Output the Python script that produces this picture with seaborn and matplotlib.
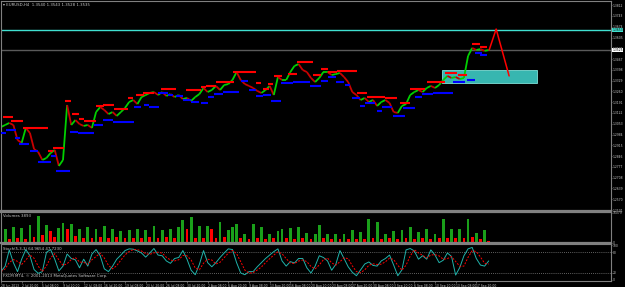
import numpy as np
import pandas as pd
import matplotlib
matplotlib.use("Agg")
import matplotlib.pyplot as plt
import matplotlib.transforms as mtransforms
from matplotlib.collections import LineCollection
from matplotlib.patches import Rectangle
import seaborn as sns

# ---------------- data ----------------
BAR_STEP = 3  # each sample below = one 12h step (3 x H4 bars)

closes = [1.3032, 1.3045, 1.3058, 1.3045, 1.2949, 1.2930, 1.3026, 1.2994, 1.2891, 1.2872,
          1.2821, 1.2834, 1.2866, 1.2885, 1.2783, 1.2821, 1.3173, 1.3045, 1.3077, 1.3051,
          1.3039, 1.3045, 1.3026, 1.3128, 1.3160, 1.3141, 1.3115, 1.3128, 1.3103, 1.3128,
          1.3154, 1.3192, 1.3205, 1.3179, 1.3224, 1.3237, 1.3250, 1.3256, 1.3237, 1.3256,
          1.3231, 1.3243, 1.3224, 1.3237, 1.3211, 1.3218, 1.3199, 1.3224, 1.3243, 1.3282,
          1.3256, 1.3269, 1.3295, 1.3269, 1.3301, 1.3307, 1.3333, 1.3384, 1.3333, 1.3307,
          1.3295, 1.3282, 1.3263, 1.3250, 1.3269, 1.3295, 1.3237, 1.3352, 1.3333, 1.3333,
          1.3384, 1.3423, 1.3435, 1.3397, 1.3384, 1.3346, 1.3320, 1.3346, 1.3384, 1.3384,
          1.3365, 1.3371, 1.3378, 1.3352, 1.3320, 1.3256, 1.3237, 1.3205, 1.3218, 1.3192,
          1.3205, 1.3167, 1.3192, 1.3205, 1.3186, 1.3128, 1.3122, 1.3167, 1.3179, 1.3237,
          1.3256, 1.3269, 1.3256, 1.3282, 1.3295, 1.3282, 1.3301, 1.3333, 1.3359, 1.3346,
          1.3352, 1.3339, 1.3346, 1.3487, 1.3538, 1.3525, 1.3531, 1.3519, 1.3525]

volumes = [4330, 7570, 2160, 8660, 2700, 8110, 2160, 9740, 3250, 14610,
           4330, 9740, 6490, 3250, 8110, 10820, 7570, 10280, 3790, 7570,
           2700, 8660, 2700, 7570, 3250, 9200, 2700, 7570, 3250, 6490,
           2700, 7030, 2700, 7570, 2700, 7030, 3250, 9200, 2700, 7030,
           3250, 7570, 2700, 8660, 12440, 7570, 14070, 2700, 9200, 2700,
           9200, 7570, 2700, 11360, 3250, 7030, 8660, 10280, 2700, 4870,
           2160, 10280, 2700, 8660, 2160, 4870, 2700, 6490, 7570, 2700,
           8110, 2160, 8660, 2700, 5410, 2160, 4870, 9740, 2700, 4870,
           2160, 4870, 2160, 4870, 2160, 7030, 2160, 5950, 2160, 12980,
           2700, 11360, 2160, 4870, 2700, 6490, 2160, 7030, 2700, 8660,
           2160, 5950, 2700, 7570, 2160, 4870, 2700, 12980, 2700, 7570,
           2700, 7570, 2700, 12980, 3250, 5410, 2160, 7030, 1080]

stoch_main = [24, 40, 87, 50, 24, 60, 88, 70, 30, 19,
              24, 80, 88, 60, 26, 40, 75, 62, 58, 35,
              60, 40, 75, 88, 70, 32, 24, 40, 60, 72,
              85, 90, 89, 84, 78, 66, 78, 91, 72, 70,
              55, 48, 62, 65, 85, 60, 28, 15, 45, 85,
              50, 38, 50, 65, 78, 90, 88, 50, 20, 15,
              24, 24, 38, 50, 62, 72, 82, 90, 55, 40,
              53, 49, 62, 62, 35, 20, 40, 70, 65, 55,
              28, 45, 85, 62, 38, 22, 12, 29, 46, 52,
              42, 40, 55, 62, 72, 43, 12, 29, 87, 91,
              84, 60, 70, 60, 87, 72, 50, 57, 78, 68,
              14, 36, 70, 90, 94, 62, 43, 40, 55]

# resistance (red) and support (blue) levels: start bar, end bar, price
red_start = [1.4, 7.2, 15.9, 34.1, 37.7, 46.4, 51.4, 56.5, 60.1, 68.8, 73.9, 81.9, 92.0, 97.8,
             102.9, 115.9, 134.1, 144.9, 148.6, 155.8, 168.1, 184.8, 189.9, 193.5, 197.8, 208.0,
             214.5, 226.8, 231.9, 237.7, 244.2, 258.7, 265.9, 279.0, 289.9, 297.1, 309.4, 322.5,
             331.9, 342.0, 347.8]
red_end = [8.7, 15.9, 34.1, 37.7, 45.7, 50.7, 56.5, 60.1, 68.8, 74.6, 81.9, 92.0, 95.7, 103.6,
           110.9, 126.8, 144.9, 148.6, 155.8, 168.8, 184.8, 188.4, 194.2, 197.1, 204.3, 215.2,
           226.8, 231.9, 237.7, 244.2, 258.7, 265.9, 279.0, 287.7, 297.1, 308.0, 322.5, 331.2,
           338.4, 347.8, 352.9]
red_level = [1.3096, 1.3071, 1.3026, 1.2879, 1.2898, 1.3199, 1.3115, 1.3083, 1.3071, 1.3167,
             1.3173, 1.3147, 1.3218, 1.3237, 1.3250, 1.3275, 1.3269, 1.3288, 1.3295, 1.3320,
             1.3384, 1.3314, 1.3275, 1.3307, 1.3359, 1.3371, 1.3448, 1.3365, 1.3403, 1.3384,
             1.3391, 1.3250, 1.3224, 1.3218, 1.3186, 1.3275, 1.3320, 1.3378, 1.3365, 1.3563,
             1.3544]

blue_start = [0.0, 3.6, 10.1, 13.0, 21.0, 26.8, 36.2, 39.9, 50.0, 55.8, 61.6, 67.4, 73.9, 81.2,
              96.4, 103.6, 107.2, 113.8, 121.0, 126.8, 131.9, 137.7, 144.9, 150.0, 154.3, 160.9,
              173.9, 179.7, 184.8, 189.9, 195.7, 202.9, 212.3, 224.6, 231.9, 237.7, 242.8, 250.0,
              255.1, 260.9, 264.5, 273.2, 276.8, 284.8, 292.0, 300.7, 305.8, 313.8, 328.3, 338.4,
              344.2, 347.8]
blue_end = [3.6, 10.9, 13.8, 20.3, 26.8, 36.2, 39.9, 50.0, 55.8, 61.6, 67.4, 73.9, 81.2, 96.4,
            101.4, 107.2, 114.5, 121.0, 124.6, 131.9, 137.7, 143.5, 150.0, 154.3, 160.9, 172.5,
            179.0, 184.8, 189.9, 195.7, 202.9, 212.3, 224.6, 231.9, 237.7, 242.8, 248.6, 253.6,
            260.9, 264.5, 271.7, 276.8, 284.1, 293.5, 300.7, 305.8, 313.8, 328.3, 337.0, 344.2,
            349.3, 352.9]
blue_level = [1.2994, 1.3013, 1.2962, 1.2923, 1.2879, 1.2808, 1.2847, 1.2751, 1.3000, 1.2994,
              1.2994, 1.3045, 1.3077, 1.3064, 1.3160, 1.3173, 1.3160, 1.3250, 1.3237, 1.3231,
              1.3205, 1.3192, 1.3186, 1.3224, 1.3243, 1.3256, 1.3327, 1.3269, 1.3231, 1.3237,
              1.3199, 1.3314, 1.3320, 1.3295, 1.3327, 1.3352, 1.3320, 1.3301, 1.3218, 1.3167,
              1.3186, 1.3135, 1.3160, 1.3103, 1.3154, 1.3224, 1.3243, 1.3250, 1.3320, 1.3333,
              1.3506, 1.3493]

zigzag_bar = [354.3, 359.4, 368.8]
zigzag_price = [1.3525, 1.3659, 1.3359]
zone_bar = [320.3, 389.1]
zone_price = [1.3314, 1.3397]
cyan_level = 1.3653
bid_level = 1.3525

price_ticks = [1.2501, 1.2570, 1.2639, 1.2708, 1.2777, 1.2846, 1.2915, 1.2984, 1.3053, 1.3122,
               1.3191, 1.3260, 1.3329, 1.3398, 1.3467, 1.3536, 1.3605, 1.3674, 1.3743, 1.3812]
date_labels = ["28 Jun 2013", "2 Jul 20:00", "5 Jul 08:00", "9 Jul 20:00", "12 Jul 08:00",
               "16 Jul 20:00", "19 Jul 08:00", "23 Jul 20:00", "26 Jul 08:00", "30 Jul 20:00",
               "2 Aug 08:00", "6 Aug 20:00", "9 Aug 08:00", "13 Aug 20:00", "16 Aug 08:00",
               "20 Aug 20:00", "23 Aug 08:00", "27 Aug 20:00", "30 Aug 08:00", "3 Sep 20:00",
               "6 Sep 08:00", "10 Sep 20:00", "13 Sep 08:00", "17 Sep 20:00"]
DATE_STEP = 15

title_text = "EURUSD,H4  1.3540 1.3543 1.3528 1.3535"
vol_title = "Volumes 3893"
vol_max_label = 16079
stoch_title = "Stoch(5,3,3) 64.9654 47.7230"
copyright_text = "FXCM MT4, \u00a9 2001-2013 MetaQuotes Software Corp."

# ---------------- build ----------------
sns.set_style("ticks")
plt.rcParams['font.family'] = ['DejaVu Sans']

df = pd.DataFrame({"bar": np.arange(len(closes)) * BAR_STEP,
                   "close": closes, "volume": volumes, "stoch": stoch_main})
df["signal"] = df["stoch"].rolling(3, min_periods=1).mean()
up = df["close"].diff().fillna(0) >= 0
vol_up = df["volume"].diff().fillna(0) >= 0

W, H = 625, 287
fig = plt.figure(figsize=(W / 100, H / 100), dpi=100, facecolor="black")

def px_axes(x0, x1, y0, y1):
    return fig.add_axes([x0 / W, (H - y1) / H, (x1 - x0) / W, (y1 - y0) / H])

XMAX = 442.75
ax = px_axes(1, 611, 1, 211)
axv = px_axes(1, 611, 212, 243)
axs = px_axes(1, 611, 244, 281)

GRAY = "#808080"
TXT = "#c8c8c8"
FS = 2.2
for a in (ax, axv, axs):
    a.set_facecolor("black")
    for s in a.spines.values():
        s.set_color(GRAY)
        s.set_linewidth(0.8)
    a.set_xlim(0, XMAX)
    a.yaxis.tick_right()
    a.tick_params(axis="y", colors=GRAY, labelcolor=TXT, labelsize=FS, length=1.0, width=0.5, pad=0.5)
    a.tick_params(axis="x", colors=GRAY, labelcolor=TXT, labelsize=FS, length=1.5, width=0.5, pad=1)
ax.spines["bottom"].set_linewidth(1.6)
axv.spines["top"].set_linewidth(1.6)
axv.spines["bottom"].set_linewidth(1.6)
axs.spines["top"].set_linewidth(0.8)

# ---- main price panel ----
ax.set_ylim(1.24946, 1.38386)
ax.set_yticks(price_ticks)
ax.set_yticklabels([f"{v:.4f}" for v in price_ticks])
ax.set_xticks([])

ax.add_patch(Rectangle((zone_bar[0], zone_price[0]), zone_bar[1] - zone_bar[0],
                       zone_price[1] - zone_price[0], facecolor="#37b6b0",
                       edgecolor="#7fe0d8", lw=0.6, zorder=1))
ax.axhline(cyan_level, color="#40e0d0", lw=1.0, zorder=1)
ax.axhline(bid_level, color="#5a5a5a", lw=1.0, zorder=1)

pts = df[["bar", "close"]].to_numpy()
segs = np.stack([pts[:-1], pts[1:]], axis=1)
seg_cols = np.where(up.to_numpy()[1:], "#00d000", "#c80000")
ax.add_collection(LineCollection(segs, colors=seg_cols, linewidths=1.3, zorder=2,
                                 capstyle="butt"))

ax.hlines(red_level, red_start, red_end, colors="#ff0000", lw=1.5, zorder=3)
ax.hlines(blue_level, blue_start, blue_end, colors="#0000ff", lw=1.5, zorder=3)

sns.lineplot(x=zigzag_bar, y=zigzag_price, ax=ax, color="#ff0000", lw=1.1,
             estimator=None, sort=False, zorder=4)

tr = mtransforms.blended_transform_factory(ax.transAxes, ax.transData)
ax.text(1.002, cyan_level, f"{cyan_level:.4f}", transform=tr, fontsize=FS, color="black",
        va="center", ha="left", bbox=dict(boxstyle="square,pad=0.15", fc="#40e0d0", ec="none"),
        zorder=6, clip_on=False)
ax.text(1.002, bid_level, f"{bid_level:.4f}", transform=tr, fontsize=FS, color="black",
        va="center", ha="left", bbox=dict(boxstyle="square,pad=0.15", fc="white", ec="none"),
        zorder=6, clip_on=False)
ax.text(0.004, 0.992, "\u25be " + title_text, transform=ax.transAxes, fontsize=2.8,
        color=TXT, va="top", ha="left")

# ---- volume panel ----
bar_cols = np.where(vol_up.to_numpy(), "#1aa01a", "#ff0000")
axv.bar(df["bar"], df["volume"], width=2.0, color=bar_cols, linewidth=0, align="center")
axv.set_ylim(-160, 16600)
axv.set_yticks([0, vol_max_label])
axv.set_yticklabels(["0", str(vol_max_label)])
axv.set_xticks([])
axv.set_ylabel("")
axv.text(0.004, 0.92, vol_title, transform=axv.transAxes, fontsize=2.8, color=TXT,
         va="top", ha="left")

# ---- stochastic panel ----
axs.set_ylim(-3.2, 104.06)
for lev in (20, 80):
    axs.axhline(lev, color=GRAY, lw=0.6, ls=(0, (1, 1.5)))
sns.lineplot(data=df, x="bar", y="stoch", ax=axs, color="#20b2aa", lw=0.7)
sns.lineplot(data=df, x="bar", y="signal", ax=axs, color="#ff0000", lw=0.7, ls=(0, (2, 1.5)))
axs.set_ylabel("")
axs.set_xlabel("")
axs.set_yticks([0, 20, 80, 100])
axs.set_yticklabels(["0", "20", "80", "100"])
axs.set_xticks(np.arange(len(date_labels)) * DATE_STEP)
axs.set_xticklabels(date_labels, ha="left")
axs.text(0.004, 0.93, stoch_title, transform=axs.transAxes, fontsize=2.8, color=TXT,
         va="top", ha="left")
axs.text(0.004, 0.07, copyright_text, transform=axs.transAxes, fontsize=2.8, color=TXT,
         va="bottom", ha="left")
axs.set_xlim(0, XMAX)

fig.savefig("out.png", dpi=100, facecolor="black")
